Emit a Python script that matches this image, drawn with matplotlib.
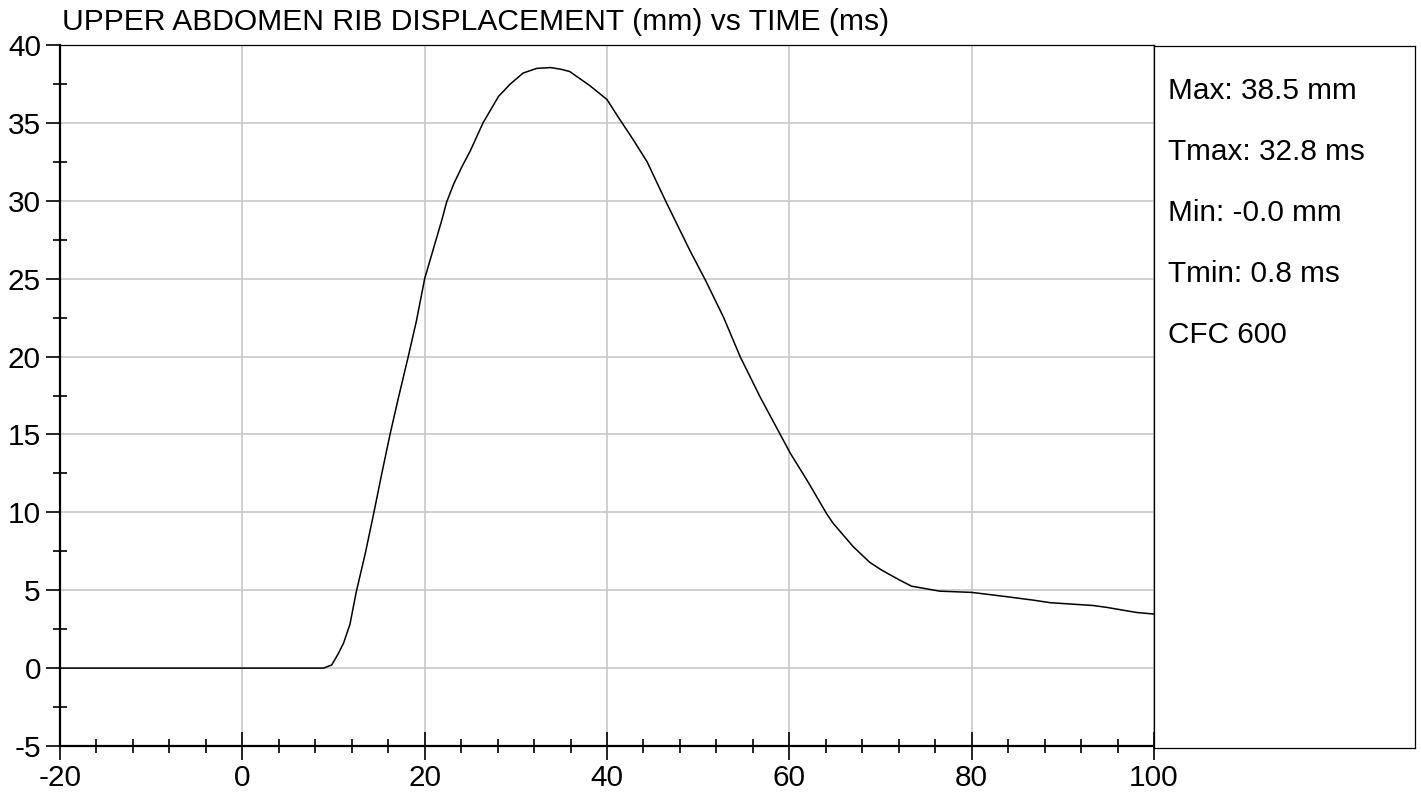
import matplotlib.pyplot as plt
from matplotlib.ticker import MultipleLocator

plt.rcParams["font.family"] = ["Liberation Sans", "DejaVu Sans"]
plt.rcParams["axes.unicode_minus"] = False

# curve (time in ms, displacement in mm)
time_ms = [-20, 8.9, 9.8, 10.5, 11.1, 11.8, 12.5, 13.5, 14.4, 15.3, 16.2, 17.1,
           18.2, 19.1, 20.0, 21.0, 21.9, 22.4, 23.2, 24.1, 25.0, 26.4, 27.2, 28.1,
           29.4, 30.8, 32.3, 33.8, 34.9, 35.9, 38.1, 40.0, 41.2, 42.9, 44.4, 46.5,
           49.1, 50.8, 52.8, 54.6, 56.8, 59.0, 60.1, 61.9, 64.1, 64.8, 67.0, 68.8,
           70.1, 72.1, 73.4, 76.5, 80.0, 83.1, 86.8, 88.6, 93.3, 94.8, 98.1, 100]
disp_mm = [0, 0, 0.2, 0.9, 1.6, 2.8, 4.9, 7.4, 9.9, 12.5, 15.0, 17.3,
           20.0, 22.3, 25.0, 27.0, 28.8, 29.9, 31.1, 32.2, 33.2, 35.0, 35.8, 36.7,
           37.5, 38.2, 38.5, 38.55, 38.45, 38.3, 37.4, 36.5, 35.4, 33.9, 32.5, 29.9,
           26.8, 24.9, 22.5, 20.0, 17.4, 15.0, 13.8, 12.1, 9.9, 9.3, 7.8, 6.8,
           6.3, 5.65, 5.26, 4.94, 4.86, 4.64, 4.36, 4.2, 4.02, 3.9, 3.57, 3.47]

title = "UPPER ABDOMEN RIB DISPLACEMENT (mm) vs TIME (ms)"
stats = ["Max: 38.5 mm", "Tmax: 32.8 ms", "Min: -0.0 mm", "Tmin: 0.8 ms", "CFC 600"]

W, H = 1421, 797
fig = plt.figure(figsize=(W / 100, H / 100), dpi=100)

ax = fig.add_axes([60 / W, 1 - 746 / H, (1154 - 60) / W, (746 - 45) / H])
ax.plot(time_ms, disp_mm, color="black", lw=1.1, zorder=3)
ax.set_xlim(-20, 100)
ax.set_ylim(-5, 40)

ax.xaxis.set_major_locator(MultipleLocator(20))
ax.xaxis.set_minor_locator(MultipleLocator(4))
ax.yaxis.set_major_locator(MultipleLocator(5))
ax.yaxis.set_minor_locator(MultipleLocator(2.5))
ax.grid(True, which="major", color="#c8c8c8", lw=1.2, zorder=0)

ax.tick_params(axis="x", which="major", direction="inout", length=19.5, width=1.2,
               labelsize=21.4, pad=3)
ax.tick_params(axis="x", which="minor", direction="inout", length=10, width=1.2)
ax.tick_params(axis="y", which="major", direction="out", length=9.75, width=1.2,
               labelsize=21.4, pad=4)
ax.tick_params(axis="y", which="minor", direction="inout", length=10.5, width=1.2)

for side in ["left", "bottom"]:
    ax.spines[side].set_linewidth(1.6)
for side in ["top", "right"]:
    ax.spines[side].set_linewidth(0.9)

# stats panel on the right
panel = fig.add_axes([1154 / W, 1 - 748 / H, (1415 - 1154) / W, (748 - 46) / H])
panel.set_xticks([])
panel.set_yticks([])
for s in panel.spines.values():
    s.set_linewidth(0.9)

for i, line in enumerate(stats):
    fig.text(1168 / W, 1 - (91 + 61 * i) / H, line, fontsize=21.4, va="center")

fig.text(62 / W, 1 - 22 / H, title, fontsize=21.6, va="center")

fig.savefig("out.png", dpi=100)
